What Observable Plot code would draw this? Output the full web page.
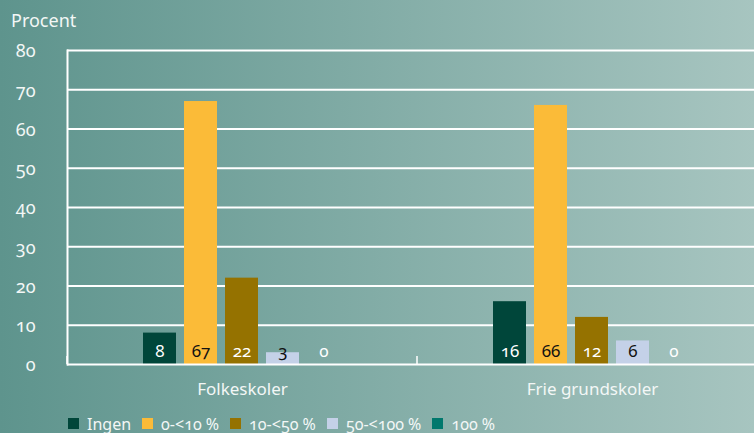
<!DOCTYPE html>
<html>
<head>
<meta charset="utf-8">
<script src="https://cdn.jsdelivr.net/npm/d3@7"></script>
<script src="https://cdn.jsdelivr.net/npm/@observablehq/plot@0.6"></script>
<style>
  html, body { margin: 0; padding: 0; }
  body {
    width: 754px; height: 433px; overflow: hidden;
    background: linear-gradient(to right, #5e948d, #a7c5c0);
    font-family: "Noto Sans", sans-serif;
    color: #f3f7f6;
    font-variant-numeric: oldstyle-nums;
  }
  #title { box-sizing: border-box; height: 32px; padding-top: 8px; line-height: 24px; font-size: 18px; padding-left: 11px; }
  #chart svg { display: block; }
  #legend { height: 23px; display: flex; align-items: center; padding-left: 68px; font-size: 16px; padding-top: 2px; }
  .item { display: flex; align-items: center; margin-right: 11px; }
  .sw { width: 11px; height: 11px; margin-right: 8px; }
</style>
</head>
<body>
<div id="title">Procent</div>
<div id="chart"></div>
<div id="legend"></div>
<script>
const groups = ["Folkeskoler", "Frie grundskoler"];
const series = ["Ingen", "0-<10 %", "10-<50 %", "50-<100 %", "100 %"];
const folkeskoler = [8, 67, 22, 3, 0];
const frieGrundskoler = [16, 66, 12, 6, 0];
const yTicks = [0, 10, 20, 30, 40, 50, 60, 70, 80];
const colors = ["#00463a", "#fbbb38", "#957200", "#c4d1e8", "#00786d"];
const darkLabelSeries = ["0-<10 %", "50-<100 %"];

const values = [folkeskoler, frieGrundskoler];
const data = groups.flatMap((g, gi) => series.map((s, si) => ({group: g, series: s, value: values[gi][si]})));

const chart = Plot.plot({
  width: 754,
  height: 378,
  marginTop: 18,
  marginBottom: 46,
  marginLeft: 67,
  marginRight: -13,
  style: {background: "transparent", color: "#f3f7f6", fontFamily: "'Noto Sans', sans-serif", fontSize: "16px", fontVariantNumeric: "oldstyle-nums"},
  fx: {domain: groups, padding: 0, label: null},
  x: {domain: series, paddingInner: 8 / 42, paddingOuter: 1.762, axis: null},
  y: {domain: [0, 80], label: null, axis: null},
  color: {domain: series, range: colors},
  marks: [
    Plot.ruleY(yTicks.filter(d => d > 0), {stroke: "#ffffff", strokeWidth: 1.8}),
    Plot.barY(data, {fx: "group", x: "series", y: "value", fill: "series"}),
    Plot.ruleY([0], {stroke: "#ffffff", strokeWidth: 2}),
    Plot.text(data.filter(d => !darkLabelSeries.includes(d.series)), {fx: "group", x: "series", y: 0, text: d => String(d.value), dy: -13, fill: "#ffffff", fontSize: 17, fontVariant: "oldstyle-nums"}),
    Plot.text(data.filter(d => darkLabelSeries.includes(d.series)), {fx: "group", x: "series", y: 0, text: d => String(d.value), dy: -13, fill: "#111111", fontSize: 17, fontVariant: "oldstyle-nums"}),
    Plot.text(yTicks, {fx: () => groups[0], y: d => d, text: d => String(d), frameAnchor: "left", textAnchor: "end", dx: -32, dy: 1, fill: "#f3f7f6", fontSize: 18, fontVariant: "oldstyle-nums"}),
    Plot.axisFx({anchor: "bottom", tickSize: 0, tickPadding: 18, fontSize: 17, label: null}),
    Plot.frame({anchor: "left", facet: "super", stroke: "#ffffff", strokeWidth: 2}),
    (index, scales, vals, dims) => {
      const y0 = scales.y(0);
      return d3.create("svg:line")
        .attr("stroke", "#ffffff").attr("stroke-width", 1.5)
        .attr("x1", dims.marginLeft).attr("x2", dims.marginLeft)
        .attr("y1", y0 - 8).attr("y2", y0)
        .node();
    }
  ]
});
document.getElementById("chart").appendChild(chart);

const legend = d3.select("#legend");
series.forEach((s, i) => {
  const item = legend.append("div").attr("class", "item");
  item.append("div").attr("class", "sw").style("background", colors[i]);
  item.append("span").text(s);
});
</script>
</body>
</html>
